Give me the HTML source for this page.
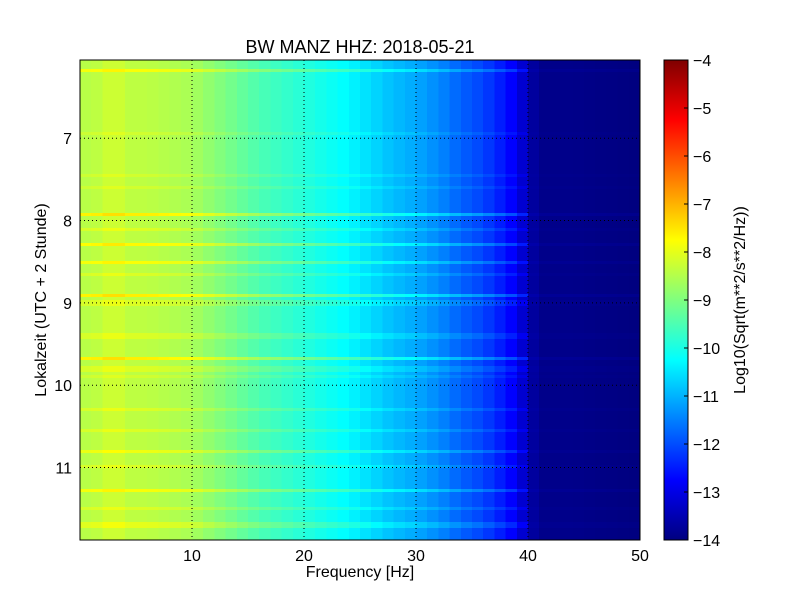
<!DOCTYPE html>
<html><head><meta charset="utf-8"><style>
body{margin:0;background:#fff;}
svg text{font-family:"Liberation Sans",sans-serif;fill:#000;}
</style></head><body>
<svg id="c" width="800" height="600" xmlns="http://www.w3.org/2000/svg">
<rect width="800" height="600" fill="#fff"/>
<defs><linearGradient id="jet" x1="0" y1="1" x2="0" y2="0">
<stop offset="0" stop-color="#00007f"/><stop offset="0.125" stop-color="#0000ff"/>
<stop offset="0.375" stop-color="#00ffff"/><stop offset="0.625" stop-color="#ffff00"/><stop offset="0.875" stop-color="#ff0000"/><stop offset="1" stop-color="#7f0000"/>
</linearGradient></defs>
<g id="cells" shape-rendering="crispEdges"></g>
<g id="grid"></g>
<rect x="80" y="60" width="560" height="480" fill="none" stroke="#000" stroke-width="1"/>
<text x="360" y="53" font-size="18" text-anchor="middle">BW MANZ HHZ: 2018-05-21</text>
<text x="360" y="577" font-size="16" text-anchor="middle">Frequency [Hz]</text>
<text transform="translate(46,300) rotate(-90)" font-size="16" text-anchor="middle">Lokalzeit (UTC + 2 Stunde)</text>
<rect x="664" y="60" width="24" height="480" fill="url(#jet)" stroke="#000"/>
<g id="cbt"></g>
<text transform="translate(745,300) rotate(-90)" font-size="16" text-anchor="middle">Log10(Sqrt(m**2/s**2/Hz))</text>
</svg>
<script>
const freqs=[0,1,2,3,4,6,8,10,12,14,16,18,20,22,24,26,28,30,32,34,36,38,39,40,41,44,47,50];
const levels=[-8.5,-8.4,-8.4,-8.1,-8.4,-8.4,-8.5,-8.6,-8.9,-9.2,-9.5,-9.7,-9.9,-10.1,-10.3,-10.6,-10.9,-11.1,-11.4,-11.8,-12.1,-12.6,-12.9,-13.5,-13.9,-13.9,-13.95,-14.0];
const lineTimes=[6.18,6.95,7.45,7.6,7.92,8.1,8.3,8.5,8.65,8.9,9.0,9.4,9.68,9.8,9.9,10.3,10.55,10.8,11.0,11.28,11.5,11.7];
const lineStrengths=[0.6,0.2,0.2,0.2,0.8,0.3,0.7,0.6,0.3,0.8,0.3,0.3,0.8,0.3,0.2,0.3,0.3,0.5,0.3,0.6,0.3,0.4];
const xTicks=[10,20,30,40,50];
const yTicks=[7,8,9,10,11];
const cbTicks=[-4,-5,-6,-7,-8,-9,-10,-11,-12,-13,-14];
const X0=80,X1=640,Y0=60,Y1=540,F0=0,F1=50,T0=6.05,T1=11.88,V0=-14,V1=-4;
const xs=f=>X0+(f-F0)/(F1-F0)*(X1-X0);
const ys=t=>Y0+(t-T0)/(T1-T0)*(Y1-Y0);
const cy=v=>Y1-(v-V0)/(V1-V0)*(Y1-Y0);
function prof(f){for(let i=0;i<freqs.length-1;i++){if(f<=freqs[i+1]){const a=(f-freqs[i])/(freqs[i+1]-freqs[i]);return levels[i]+a*(levels[i+1]-levels[i]);}}return levels[levels.length-1];}
function jet(t){t=Math.max(0,Math.min(1,t));const c=x=>Math.round(255*Math.max(0,Math.min(1,1.5-Math.abs(4*t-x))));return `rgb(${c(3)},${c(2)},${c(1)})`;}
const NS="http://www.w3.org/2000/svg";
const cells=document.getElementById('cells');
const df=1,nT=160,dt=(T1-T0)/nT;
for(let j=0;j<nT;j++){const t=T0+(j+0.5)*dt;let off=0;
 lineTimes.forEach((lt,k)=>{if(Math.abs(lt-t)<dt*0.6)off+=lineStrengths[k];});
 for(let f=0;f<F1;f+=df){const fc=f+df/2;const v=prof(fc)+off*(fc<40?1:0.15);
  const r=document.createElementNS(NS,'rect');
  r.setAttribute('x',xs(f));r.setAttribute('y',ys(T0+j*dt));
  r.setAttribute('width',xs(f+df)-xs(f)+0.5);r.setAttribute('height',ys(T0+(j+1)*dt)-ys(T0+j*dt)+0.5);
  r.setAttribute('fill',jet((v-V0)/(V1-V0)));
  
  
  cells.appendChild(r);}}
const grid=document.getElementById('grid');
function el(tag,attrs,txt){const e=document.createElementNS(NS,tag);for(const k in attrs)e.setAttribute(k,attrs[k]);if(txt!==undefined)e.textContent=txt;return e;}
xTicks.forEach(v=>{const x=xs(v);
 if(v<F1){const l=el('line',{x1:x,x2:x,y1:Y0,y2:Y1,stroke:'#000','stroke-dasharray':'1,3'});grid.appendChild(l);}
 const t=el('text',{x:x,y:Y1+21,'font-size':16,'text-anchor':'middle'},String(v));grid.appendChild(t);});
yTicks.forEach(v=>{const y=ys(v);
 const l=el('line',{x1:X0,x2:X1,y1:y,y2:y,stroke:'#000','stroke-dasharray':'1,3'});grid.appendChild(l);
 const t=el('text',{x:X0-8,y:y+6,'font-size':16,'text-anchor':'end'},String(v));grid.appendChild(t);});
const cbt=document.getElementById('cbt');
cbTicks.forEach(v=>{const y=cy(v);
 const l=el('line',{x1:684,x2:688,y1:y,y2:y,stroke:'#000'});cbt.appendChild(l);
 const t=el('text',{x:693,y:y+6,'font-size':16},'\u2212'+Math.abs(v));cbt.appendChild(t);});
</script>
</body></html>
